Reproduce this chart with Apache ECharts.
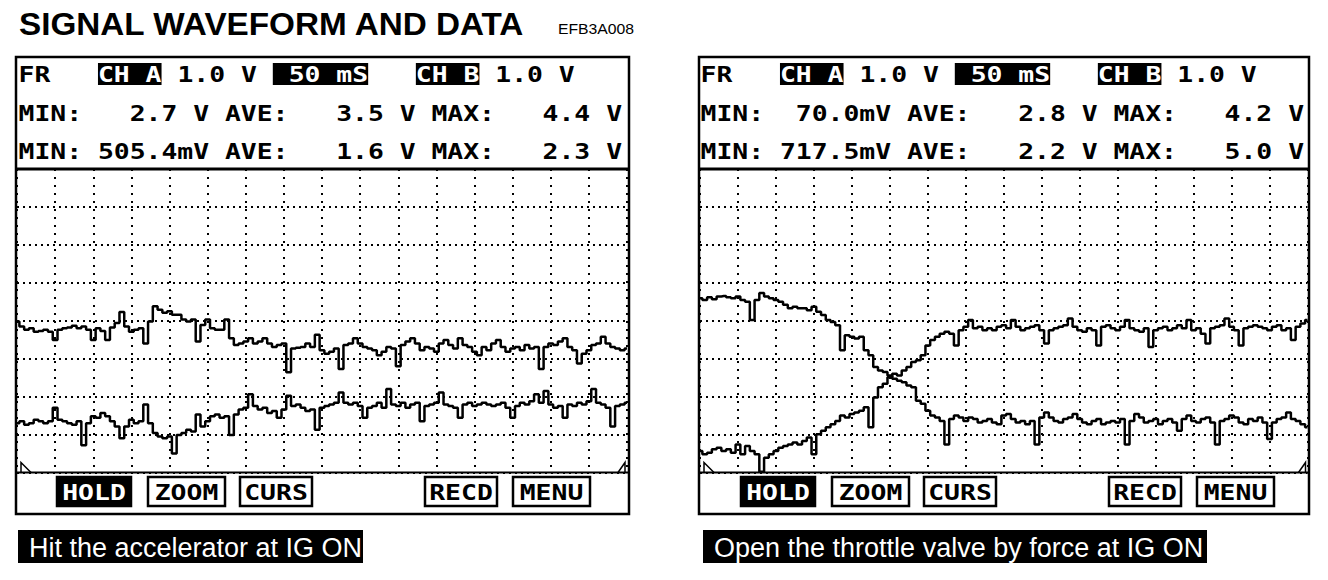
<!DOCTYPE html>
<html><head><meta charset="utf-8">
<script src="https://cdn.jsdelivr.net/npm/echarts@6/dist/echarts.min.js"></script>
<style>html,body{margin:0;padding:0;background:#fff}#c{width:1328px;height:580px}</style>
</head><body><div id="c"></div>
<script>
// ---------- data (screen volts, 1.0 V/div, 50 mS/div) ----------
const TITLE = 'SIGNAL WAVEFORM AND DATA';
const CODE = 'EFB3A008';
const SAMPLE_MS = 6.25;          // sample spacing
const TIME_DIV_MS = 50;          // 50 mS per division
const TIME_SPAN_MS = 800;        // 16 divisions
const VOLT_DIV = 1;              // 1.0 V per division
const VOLT_SPAN = 8;             // 8 divisions

const leftHeader = [
  'MIN:   2.7 V AVE:   3.5 V MAX:   4.4 V',
  'MIN: 505.4mV AVE:   1.6 V MAX:   2.3 V'
];
const rightHeader = [
  'MIN:  70.0mV AVE:   2.8 V MAX:   4.2 V',
  'MIN: 717.5mV AVE:   2.2 V MAX:   5.0 V'
];
const scaleRow = ['FR', 'CH A', '1.0 V', '50 mS', 'CH B', '1.0 V'];
const buttons = ['HOLD', 'ZOOM', 'CURS', 'RECD', 'MENU'];
const captions = ['Hit the accelerator at IG ON', 'Open the throttle valve by force at IG ON'];

const leftA = [3.98,3.85,3.76,3.80,3.71,3.73,3.76,3.71,3.49,3.76,
 3.80,3.82,3.87,3.80,3.85,3.76,3.49,3.80,3.73,3.49,
 3.82,3.94,4.23,3.85,3.71,3.76,3.80,3.40,3.98,4.38,
 4.29,4.21,4.25,4.16,4.16,4.03,3.98,4.03,3.45,3.89,
 4.03,3.80,3.76,3.76,4.03,3.54,3.36,3.40,3.45,3.54,
 3.40,3.45,3.54,3.40,3.31,3.36,3.40,2.64,3.27,3.29,
 3.31,3.40,3.31,3.63,3.22,3.13,3.18,3.27,2.73,3.36,
 3.40,3.54,3.40,3.31,3.27,3.22,3.09,3.18,3.31,3.27,
 2.80,3.36,3.45,3.54,3.40,3.22,3.31,3.27,3.18,3.40,
 3.49,3.36,3.27,3.54,3.36,3.31,3.18,3.09,3.31,3.22,
 3.40,3.49,3.31,3.18,3.27,3.31,3.22,3.36,3.27,3.31,
 2.73,3.31,3.40,3.36,3.45,3.54,3.31,3.22,2.87,3.13,
 3.22,3.36,3.40,3.58,3.40,3.31,3.27,3.22,3.27];
const leftB = [1.30,1.35,1.26,1.30,1.39,1.35,1.30,1.35,1.71,1.39,
 1.35,1.30,1.26,1.35,0.72,1.30,1.48,1.44,1.57,1.48,
 1.35,1.21,0.90,1.21,1.39,1.30,1.35,1.79,1.30,1.04,
 0.95,0.90,0.95,0.50,0.99,1.04,1.13,1.08,1.53,1.21,
 1.35,1.48,1.53,1.44,1.48,0.99,1.53,1.66,1.71,2.06,
 1.75,1.66,1.71,1.57,1.62,1.44,1.66,2.02,1.75,1.79,
 1.71,1.62,1.66,1.13,1.71,1.75,1.79,1.84,2.11,1.84,
 1.79,1.84,1.75,1.44,1.71,1.75,1.84,1.71,2.20,1.79,
 1.75,1.84,1.71,1.79,1.84,1.35,1.75,1.79,1.84,2.11,
 1.79,1.75,1.71,1.44,1.79,1.84,1.75,1.79,1.84,1.79,
 1.75,1.79,1.84,1.71,1.44,1.75,1.84,1.79,1.88,2.06,
 1.84,2.15,1.79,1.71,1.75,1.44,1.79,1.75,1.84,1.79,
 1.88,2.20,1.84,1.79,1.71,1.21,1.75,1.79,1.84];
const rightA = [4.59,4.55,4.62,4.57,4.64,4.65,4.62,4.59,4.64,4.55,
 4.50,4.02,4.55,4.73,4.64,4.59,4.55,4.50,4.42,4.33,
 4.37,4.33,4.33,4.28,4.37,4.24,4.15,4.02,3.97,3.88,
 3.22,3.62,3.58,3.53,3.58,3.22,3.09,2.78,2.69,2.65,
 2.56,2.47,2.42,2.38,2.29,2.25,1.89,1.81,1.63,1.50,
 1.45,1.36,0.74,1.41,1.50,1.45,1.36,1.45,1.41,1.32,
 1.36,1.41,1.32,1.27,1.50,1.54,1.41,1.32,1.36,1.27,
 1.36,0.74,1.45,1.58,1.45,1.36,1.32,1.41,1.45,1.54,
 1.41,1.32,1.27,1.36,1.41,1.27,1.32,1.36,1.32,1.41,
 0.74,1.36,1.54,1.45,1.32,1.36,1.41,1.27,1.36,1.41,
 1.32,1.10,1.41,1.50,1.36,1.32,1.41,1.45,1.32,0.74,
 1.36,1.41,1.50,1.45,1.32,1.27,1.41,1.36,1.45,1.32,
 0.88,1.32,1.41,1.45,1.58,1.41,1.36,1.27,1.19];
const rightB = [0.57,0.48,0.52,0.61,0.65,0.57,0.61,0.52,0.74,0.48,
 0.70,0.57,0.48,0.02,0.39,0.48,0.57,0.65,0.70,0.74,
 0.79,0.74,0.83,0.92,0.48,1.01,1.10,1.19,1.27,1.36,
 1.50,1.45,1.54,1.58,1.63,1.72,1.19,1.98,2.25,2.34,
 2.51,2.60,2.56,2.69,2.78,2.91,2.96,3.09,3.35,3.49,
 3.58,3.66,3.71,3.66,3.35,3.75,3.84,4.02,3.80,3.84,
 3.75,3.80,3.75,3.84,3.88,3.80,4.02,3.84,3.75,3.80,
 3.84,3.88,3.75,3.40,3.75,3.80,3.84,3.88,4.06,3.84,
 3.75,3.71,3.80,3.75,3.35,3.84,3.88,3.80,3.75,3.84,
 4.02,3.80,3.75,3.71,3.80,3.31,3.75,3.80,3.84,3.75,
 3.80,3.88,3.80,4.02,3.75,3.80,3.66,3.40,3.80,3.84,
 3.88,4.06,3.84,3.75,3.35,3.80,3.84,3.88,3.84,3.80,
 3.75,3.84,3.88,3.75,3.80,3.49,3.84,3.93,4.02];

// ---------- layout ----------
const MONO = '"DejaVu Sans Mono"';
const MONO_FONT = 'bold 22px ' + MONO;
const SX = 1.2;          // widen mono glyphs to scope pitch
const PANELS = [
  {x0: 18.5, frame: [16, 57, 613, 457], plot: [17, 169, 610, 303.5], btnDx: 0, cap: [18, 530, 345, 33]},
  {x0: 700.5, frame: [699, 57, 610, 457], plot: [700, 169, 607.5, 303.5], btnDx: 684, cap: [703, 530, 504, 33]}
];
const BTN_X = [57, 148, 240, 425, 513];
const BTN_W = [74, 77, 72, 72, 77];

const graphic = [];
graphic.push({type: 'text', x: 19, y: 24, scaleX: 1.04, style: {text: TITLE, font: 'bold 32px "Liberation Sans"', fill: '#000', verticalAlign: 'middle'}});
graphic.push({type: 'text', x: 558, y: 29, scaleX: 1.05, style: {text: CODE, font: '15px "Liberation Sans"', fill: '#000', verticalAlign: 'middle'}});

const richB = {b: {backgroundColor: '#000', fill: '#fff', font: MONO_FONT, lineHeight: 25}};

PANELS.forEach((p, k) => {
  const [fx, fy, fw, fh] = p.frame;
  const [px, py, pw, ph] = p.plot;
  graphic.push({type: 'rect', shape: {x: fx, y: fy, width: fw, height: fh}, style: {fill: null, stroke: '#000', lineWidth: 2.5}});
  graphic.push({type: 'line', shape: {x1: fx, y1: py, x2: fx + fw, y2: py}, style: {stroke: '#000', lineWidth: 3}});
  graphic.push({type: 'line', shape: {x1: fx, y1: py + ph, x2: fx + fw, y2: py + ph}, style: {stroke: '#000', lineWidth: 2}});
  // header row 1
  const r1 = scaleRow[0] + '   {b|' + scaleRow[1] + '} ' + scaleRow[2] + ' {b| ' + scaleRow[3] + '}   {b|' + scaleRow[4] + '} ' + scaleRow[5];
  graphic.push({type: 'text', x: p.x0, y: 74, scaleX: SX, style: {text: r1, font: MONO_FONT, fill: '#000', verticalAlign: 'middle', rich: richB}});
  const hdr = k === 0 ? leftHeader : rightHeader;
  graphic.push({type: 'text', x: p.x0, y: 113, scaleX: SX, style: {text: hdr[0], font: MONO_FONT, fill: '#000', verticalAlign: 'middle'}});
  graphic.push({type: 'text', x: p.x0, y: 151, scaleX: SX, style: {text: hdr[1], font: MONO_FONT, fill: '#000', verticalAlign: 'middle'}});
  // trigger markers
  const by = py + ph;
  graphic.push({type: 'polyline', shape: {points: [[px + 4, by], [px + 4, by - 10], [px + 14, by]]}, style: {fill: null, stroke: '#000', lineWidth: 1.5}});
  graphic.push({type: 'polyline', shape: {points: [[px + pw - 9, by], [px + pw - 2, by - 10], [px + pw - 2, by]]}, style: {fill: null, stroke: '#000', lineWidth: 1.5}});
  // buttons
  buttons.forEach((b, i) => {
    const bx = BTN_X[i] + p.btnDx, bw = BTN_W[i];
    const filled = i === 0;
    graphic.push({type: 'rect', shape: {x: bx, y: 477, width: bw, height: 29}, style: {fill: filled ? '#000' : '#fff', stroke: '#000', lineWidth: 2.5}});
    graphic.push({type: 'text', x: bx + bw / 2, y: 492, scaleX: SX, style: {text: b, font: MONO_FONT, fill: filled ? '#fff' : '#000', align: 'center', verticalAlign: 'middle'}});
  });
  // caption
  const [cx, cy, cw, chh] = p.cap;
  graphic.push({type: 'rect', shape: {x: cx, y: cy, width: cw, height: chh}, style: {fill: '#000'}});
  graphic.push({type: 'text', x: cx + 11, y: cy + chh / 2 + 1, style: {text: captions[k], font: '27px "Liberation Sans"', fill: '#fff', verticalAlign: 'middle'}});
});

const toPairs = arr => arr.map((v, i) => [i * SAMPLE_MS, v]);

const axisX = gi => ({gridIndex: gi, type: 'value', min: 0, max: TIME_SPAN_MS, interval: TIME_DIV_MS,
  axisLine: {show: false}, axisTick: {show: false}, axisLabel: {show: false},
  splitLine: {show: true, lineStyle: {color: '#000', width: 2, type: [2, 6]}}});
const axisY = gi => ({gridIndex: gi, type: 'value', min: 0, max: VOLT_SPAN, interval: VOLT_DIV,
  axisLine: {show: false}, axisTick: {show: false}, axisLabel: {show: false},
  splitLine: {show: true, lineStyle: {color: '#000', width: 2, type: [2, 4]}}});
const trace = (gi, arr) => ({type: 'line', xAxisIndex: gi, yAxisIndex: gi, data: toPairs(arr), showSymbol: false,
  step: 'middle', silent: true, lineStyle: {color: '#000', width: 2.5}});

const chart = echarts.init(document.getElementById('c'), null, {renderer: 'svg'});
chart.setOption({
  animation: false,
  backgroundColor: '#fff',
  grid: PANELS.map(p => ({left: p.plot[0], top: p.plot[1], width: p.plot[2], height: p.plot[3]})),
  xAxis: [axisX(0), axisX(1)],
  yAxis: [axisY(0), axisY(1)],
  series: [trace(0, leftA), trace(0, leftB), trace(1, rightA), trace(1, rightB)],
  graphic: graphic
});
</script></body></html>
